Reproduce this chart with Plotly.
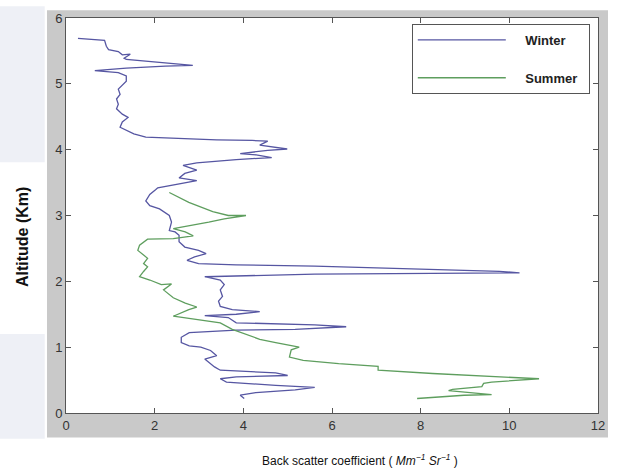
import plotly.graph_objects as go

# Winter profile (backscatter, altitude km)
winter_x = [0.27, 0.87, 0.91, 0.96, 1.18, 1.27, 1.45, 1.31, 1.36, 1.71, 2.24, 2.86,
            2.24, 1.36, 0.65, 0.91, 1.18, 1.36, 1.36, 1.18, 1.22, 1.14, 1.18, 1.14,
            1.27, 1.40, 1.27, 1.22, 1.53, 1.80, 2.51, 3.40, 4.20, 4.55, 4.37, 4.73,
            4.99, 4.55, 3.93, 4.29, 4.64, 3.84, 2.95, 2.64, 2.95, 2.68, 2.55, 2.95,
            2.51, 2.07, 2.02, 1.89, 1.80, 1.89, 2.11, 2.33, 2.38, 2.33, 2.46, 2.55,
            2.55, 2.68, 2.99, 3.16, 2.90, 2.73, 2.99, 3.84, 5.61, 7.39, 9.16, 9.78,
            10.23, 8.27, 5.61, 3.13, 3.48, 3.57, 3.48, 3.53, 3.44, 3.48, 3.75, 4.37,
            3.84, 3.13, 3.66, 3.84, 5.61, 6.32, 5.17, 3.84, 2.78, 2.60, 2.60, 2.78,
            3.04, 3.26, 3.40, 3.13, 3.22, 3.35, 3.48, 4.73, 5.00, 3.84, 3.48, 3.62,
            4.73, 5.61, 5.17, 4.28, 3.93, 4.02]
winter_y = [5.69, 5.66, 5.57, 5.52, 5.49, 5.44, 5.45, 5.39, 5.37, 5.35, 5.32, 5.28,
            5.27, 5.24, 5.20, 5.19, 5.17, 5.12, 5.04, 4.92, 4.84, 4.77, 4.69, 4.62,
            4.54, 4.49, 4.42, 4.34, 4.24, 4.19, 4.17, 4.15, 4.14, 4.13, 4.07, 4.03,
            4.01, 3.99, 3.94, 3.92, 3.88, 3.85, 3.80, 3.76, 3.69, 3.64, 3.57, 3.53,
            3.47, 3.42, 3.39, 3.32, 3.22, 3.15, 3.10, 3.00, 2.90, 2.77, 2.75, 2.70,
            2.60, 2.52, 2.47, 2.42, 2.37, 2.32, 2.27, 2.25, 2.23, 2.20, 2.17, 2.15,
            2.13, 2.12, 2.11, 2.07, 2.02, 1.95, 1.87, 1.77, 1.70, 1.62, 1.57, 1.54,
            1.50, 1.48, 1.45, 1.37, 1.34, 1.31, 1.27, 1.26, 1.22, 1.15, 1.07, 1.02,
            1.00, 0.95, 0.87, 0.82, 0.77, 0.70, 0.65, 0.61, 0.57, 0.55, 0.52, 0.47,
            0.42, 0.39, 0.35, 0.31, 0.27, 0.22]

# Summer profile
summer_x = [2.33, 2.77, 3.31, 3.66, 4.06, 3.57, 3.22, 2.77, 2.42, 2.69, 2.87, 2.42,
            1.84, 1.66, 1.62, 1.75, 1.84, 1.75, 1.84, 1.75, 1.66, 1.89, 2.15, 2.38,
            2.20, 2.42, 2.69, 2.95, 2.77, 2.42, 2.95, 3.48, 3.75, 4.02, 4.37, 4.73,
            5.26, 5.08, 5.04, 5.35, 6.15, 7.04, 7.04, 8.27, 9.60, 10.67, 9.60, 9.42,
            9.38, 8.72, 8.63, 9.25, 9.60, 8.98, 8.01, 7.92]
summer_y = [3.35, 3.20, 3.06, 3.00, 3.00, 2.95, 2.90, 2.84, 2.80, 2.75, 2.69, 2.65,
            2.64, 2.55, 2.47, 2.40, 2.35, 2.27, 2.22, 2.15, 2.07, 2.02, 1.95, 1.96,
            1.87, 1.75, 1.67, 1.61, 1.57, 1.47, 1.42, 1.37, 1.27, 1.20, 1.12, 1.07,
            1.00, 0.96, 0.85, 0.80, 0.75, 0.71, 0.65, 0.60, 0.55, 0.52, 0.47, 0.45,
            0.40, 0.36, 0.34, 0.30, 0.28, 0.27, 0.22, 0.22]

x_ticks = [0, 2, 4, 6, 8, 10, 12]
y_ticks = [0, 1, 2, 3, 4, 5, 6]

FONT = "Liberation Sans Narrow, Liberation Sans, Arial, sans-serif"
NB = "\u00a0"

fig = go.Figure()
fig.add_trace(go.Scatter(x=winter_x, y=winter_y, mode="lines", name=NB * 4 + "<b>Winter</b>" + NB * 5,
                         legendgroup="w", line=dict(color="#5656a2", width=1.3)))
fig.add_trace(go.Scatter(x=summer_x, y=summer_y, mode="lines", name=NB * 4 + "<b>Summer</b>",
                         legendgroup="s", line=dict(color="#5e9e5e", width=1.3)))

axis_common = dict(showline=True, mirror="ticks", linecolor="#555555", linewidth=1,
                   ticks="inside", ticklen=5, tickcolor="#555555", showgrid=False,
                   zeroline=False, tickfont=dict(family=FONT, size=13, color="#333333"))

fig.update_layout(
    width=617, height=473,
    margin=dict(l=66, r=19, t=11, b=60),
    paper_bgcolor="white", plot_bgcolor="white",
    xaxis=dict(range=[0, 12], tickvals=x_ticks, **axis_common),
    yaxis=dict(range=[0, 6], tickvals=y_ticks, **axis_common),
    showlegend=True,
    legend=dict(x=0.65, y=0.985, xanchor="left", yanchor="top",
                bgcolor="white", bordercolor="#555555", borderwidth=1,
                font=dict(family=FONT, size=13, color="#222222"),
                itemwidth=88, tracegroupgap=18, traceorder="grouped"),
    shapes=[
        dict(type="rect", xref="paper", yref="paper", x0=-0.0357, x1=1.0188,
             y0=-0.0622, y1=1.0199, fillcolor="#c9c9c9", line=dict(width=0), layer="below"),
        dict(type="rect", xref="paper", yref="paper", x0=0, x1=1, y0=0, y1=1,
             fillcolor="white", line=dict(width=0), layer="below"),
        dict(type="rect", xref="paper", yref="paper", x0=-0.124, x1=-0.04,
             y0=0.635, y1=1.03, fillcolor="#eef0f6", line=dict(width=0), layer="below"),
        dict(type="rect", xref="paper", yref="paper", x0=-0.124, x1=-0.04,
             y0=-0.065, y1=0.2, fillcolor="#eef0f6", line=dict(width=0), layer="below"),
    ],
    annotations=[
        dict(text="<b>Altitude (Km)</b>", xref="paper", yref="paper", x=-0.083, y=0.445,
             xanchor="center", yanchor="middle",
             textangle=-90, showarrow=False, font=dict(family="Liberation Sans, Arial", size=16, color="#111111")),
        dict(text="Back scatter coefficient ( <i>Mm<sup>−1</sup> Sr<sup>−1</sup></i> )",
             xref="paper", yref="paper", x=0.552, y=-0.119, xanchor="center", yanchor="middle",
             showarrow=False, font=dict(family=FONT, size=12, color="#111111")),
    ],
)

fig.write_html("out.html")
